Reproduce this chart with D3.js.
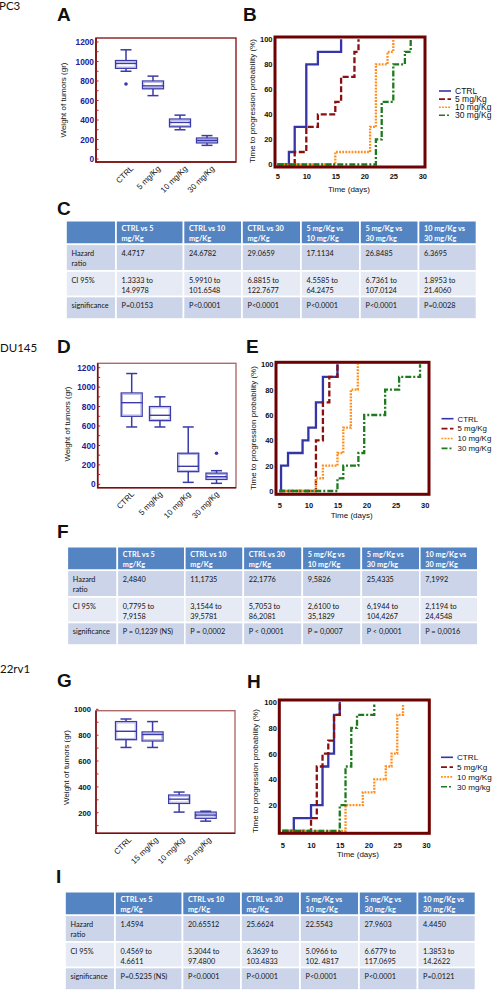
<!DOCTYPE html>
<html><head><meta charset="utf-8">
<script src="https://cdn.jsdelivr.net/npm/d3@7/dist/d3.min.js"></script>
<style>body{margin:0;background:#fff;}svg{display:block;}</style>
</head><body>
<svg id="c" width="494" height="991"></svg>
<script>
// ---------------- DATA ----------------
const boxCategoriesA = ["CTRL", "5 mg/Kg", "10 mg/Kg", "30 mg/Kg"];
const boxStatsA = [[900, 930, 980, 1010, 1120], [650, 720, 750, 800, 850], [300, 330, 375, 410, 450], [140, 165, 190, 215, 240]];
const boxOutliersA = [[770], [], [], []];
const boxTicksA = [0, 200, 400, 600, 800, 1000, 1200];

const boxCategoriesD = ["CTRL", "5 mg/Kg", "10 mg/Kg", "30 mg/Kg"];
const boxStatsD = [[590, 700, 840, 940, 1140], [590, 655, 710, 800, 900], [20, 130, 185, 320, 590], [10, 50, 78, 115, 140]];
const boxOutliersD = [[], [], [], [320]];
const boxTicksD = [0, 200, 400, 600, 800, 1000, 1200];

const boxCategoriesG = ["CTRL", "15 mg/Kg", "10 mg/Kg", "30 mg/Kg"];
const boxStatsG = [[705, 765, 830, 905, 925], [705, 755, 805, 825, 905], [205, 272, 305, 337, 360], [135, 157, 182, 205, 212]];
const boxOutliersG = [[], [], [], []];
const boxTicksG = [200, 400, 600, 800, 1000];

const kmLegendB = ["CTRL", "5 mg/Kg", "10 mg/Kg", "30 mg/Kg"];
const kmB_ctrl = [[5, 0], [7, 10], [8, 30], [10, 80], [12, 90], [16, 100]];
const kmB_5 = [[5, 0], [8, 10], [10, 30], [12, 40], [15, 50], [16, 70], [18.3, 90], [19, 100]];
const kmB_10 = [[5, 0], [15, 10], [21, 30], [22, 80], [24, 90], [25, 100]];
const kmB_30 = [[5, 0], [22, 20], [23, 50], [25, 80], [27, 90], [28, 100]];

const kmLegendE = ["CTRL", "5 mg/Kg", "10 mg/Kg", "30 mg/Kg"];
const kmE_ctrl = [[5, 0], [5.3, 20], [6.5, 30], [9, 40], [10, 50], [11.3, 70], [12.5, 90], [15, 100]];
const kmE_5 = [[5, 0], [11.3, 40], [12.5, 70], [13.6, 90], [15, 100]];
const kmE_10 = [[5, 0], [11.3, 10], [12.5, 20], [15, 30], [16, 50], [17.3, 80], [18.5, 100]];
const kmE_30 = [[5, 0], [15, 10], [16, 20], [18.6, 30], [19.6, 60], [23.2, 80], [25.6, 90], [29.2, 100]];

const kmLegendH = ["CTRL", "5 mg/Kg", "10 mg/Kg", "30 mg/kg"];
const kmH_ctrl = [[5, 0], [7, 10], [10, 20], [12, 50], [13, 60], [14, 90], [15, 100]];
const kmH_5 = [[5, 0], [10, 10], [11, 50], [12, 60], [13, 70], [14, 90], [15, 100]];
const kmH_10 = [[5, 0], [16, 20], [19, 30], [21, 40], [23, 50], [24, 60], [25, 90], [26, 98]];
const kmH_30 = [[5, 0], [15, 20], [16, 50], [17, 80], [18, 90], [21, 98]];

const kmXTicks = [5, 10, 15, 20, 25, 30];
const kmYTicks = [0, 20, 40, 60, 80, 100];
const kmYTicksH = [20, 40, 60, 80, 100];

const tableHeaders = ["", "CTRL  vs 5\nmg/Kg", "CTRL vs 10\nmg/Kg", "CTRL vs  30\nmg/Kg", "5 mg/Kg vs\n10 mg/Kg", "5 mg/Kg vs\n30 mg/kg", "10 mg/Kg vs\n30 mg/Kg"];
const tableRowLabels = ["Hazard\nratio", "CI 95%", "significance"];

const tableC_hazard = ["4.4717", "24.6782", "29.0659", "17.1134", "26.8485", "6.3695"];
const tableC_ci = ["1.3333 to\n14.9978", "5.9910 to\n101.6548", "6.8815 to\n122.7677", "4.5585 to\n64.2475", "6.7361 to\n107.0124", "1.8953 to\n21.4060"];
const tableC_sig = ["P=0.0153", "P<0.0001", "P<0.0001", "P<0.0001", "P<0.0001", "P=0.0028"];

const tableF_hazard = ["2,4840", "11,1735", "22,1776", "9,5826", "25,4335", "7,1992"];
const tableF_ci = ["0,7795 to\n7,9158", "3,1544 to\n39,5781", "5,7053 to\n86,2081", "2,6100 to\n35,1829", "6,1944 to\n104,4267", "2,1194 to\n24,4548"];
const tableF_sig = ["P = 0,1239 (NS)", "P = 0,0002", "P < 0,0001", "P = 0,0007", "P < 0,0001", "P = 0,0016"];

const tableI_hazard = ["1.4594", "20.65512", "25.6624", "22.5543", "27.9603", "4.4450"];
const tableI_ci = ["0.4569 to\n4.6611", "5.3044 to\n97.4800", "6.3639 to\n103.4833", "5.0966 to\n102. 4817", "6.6779 to\n117.0695", "1.3853 to\n14.2622"];
const tableI_sig = ["P=0.5235 (NS)", "P<0.0001", "P<0.0001", "P<0.0001", "P<0.0001", "P=0.0121"];

// ---------------- STYLE ----------------
const SANS = "'Liberation Sans', Arial, sans-serif";
const NARROW = "'Liberation Sans Narrow', 'Liberation Sans', sans-serif";
const CAL = "Lato, 'Open Sans', sans-serif";
const seriesStyle = [
  {color: "#3535a8", dash: null},
  {color: "#8a0f0f", dash: "6,2.5"},
  {color: "#ff8c1a", dash: "1.8,1.3"},
  {color: "#1e7a1e", dash: "6,2,2,2"}
];
const fmtInt = d3.format("d");

const svg = d3.select("#c");

function label(txt, x, y, size, weight, family) {
  return svg.append("text").attr("x", x).attr("y", y).attr("font-size", size)
    .attr("font-weight", weight).attr("font-family", family).attr("fill", "#111").text(txt);
}

// Section and panel labels
label("PC3", -1, 9.5, 11.5, 400, CAL);
label("DU145", 0, 351.7, 11.5, 400, CAL);
label("22rv1", 0, 673.3, 11.5, 400, CAL);
[["A", 57, 21], ["B", 243, 21], ["C", 57, 215], ["D", 57, 353], ["E", 246, 353], ["F", 57, 538], ["G", 57, 687], ["H", 247, 688], ["I", 56, 883]]
  .forEach(d => label(d[0], d[1], d[2], 19, 700, SANS));

// ---------------- BOX PANELS ----------------
function boxPanel(o) {
  const g = svg.append("g");
  const [x0, y0, x1, y1] = o.frame;
  const y = d3.scaleLinear().domain(o.yDomain).range(o.yRange);
  const x = d3.scalePoint().domain(o.cats).range(o.xRange);
  g.append("rect").attr("x", x0).attr("y", y0).attr("width", x1 - x0).attr("height", y1 - y0)
    .attr("fill", "none").attr("stroke", o.frameColor).attr("stroke-width", 1.4);
  g.append("path").attr("d", `M${x0},${y0}V${y1}H${x1}`).attr("fill", "none").attr("stroke", "#7a0e0e").attr("stroke-width", 1.6);
  const minor = d3.range(Math.ceil(o.yDomain[0] / 100) * 100, o.yDomain[1] + 1, 100);
  g.selectAll(".mt").data(minor).join("line").attr("x1", x0).attr("x2", x0 + 2.5)
    .attr("y1", d => y(d)).attr("y2", d => y(d)).attr("stroke", "#b02020").attr("stroke-width", 1);
  const ax = g.append("g").attr("transform", `translate(${x0},0)`)
    .call(d3.axisLeft(y).tickValues(o.ticks).tickFormat(fmtInt).tickSize(0).tickPadding(o.tickPad));
  ax.select(".domain").remove();
  ax.selectAll("text").attr("font-size", o.tickSize).attr("font-weight", 700)
    .attr("font-family", SANS).attr("fill", o.tickColor);
  g.append("text").attr("transform", `translate(${o.ylab[0]},${o.ylab[1]}) rotate(-90)`)
    .attr("text-anchor", "middle").attr("font-size", 8).attr("font-family", SANS).attr("fill", "#111")
    .text("Weight of tumors (gr)");
  g.selectAll(".cl").data(o.cats).join("text")
    .attr("transform", d => `translate(${x(d) + o.labDx},${y1 + 7}) rotate(-45)`)
    .attr("text-anchor", "end").attr("font-size", 8).attr("font-family", SANS).attr("fill", "#111").text(d => d);
  const bw = 21, cw = 11;
  const boxes = g.selectAll(".bx").data(o.stats.map((s, i) => ({c: o.cats[i], s, out: o.outliers[i]}))).join("g");
  const col = "#3a3aa8", light = "#a9a9e2";
  boxes.append("line").attr("x1", d => x(d.c)).attr("x2", d => x(d.c))
    .attr("y1", d => y(d.s[0])).attr("y2", d => y(d.s[1])).attr("stroke", col).attr("stroke-width", 1.5);
  boxes.append("line").attr("x1", d => x(d.c)).attr("x2", d => x(d.c))
    .attr("y1", d => y(d.s[3])).attr("y2", d => y(d.s[4])).attr("stroke", col).attr("stroke-width", 1.5);
  [0, 4].forEach(k => boxes.append("line").attr("x1", d => x(d.c) - cw / 2).attr("x2", d => x(d.c) + cw / 2)
    .attr("y1", d => y(d.s[k])).attr("y2", d => y(d.s[k])).attr("stroke", col).attr("stroke-width", 1.5));
  boxes.append("rect").attr("x", d => x(d.c) - bw / 2).attr("y", d => y(d.s[3]))
    .attr("width", bw).attr("height", d => y(d.s[1]) - y(d.s[3]))
    .attr("fill", "#fff").attr("stroke", col).attr("stroke-width", 1.3);
  boxes.append("rect").attr("x", d => x(d.c) - bw / 2 + 1.3).attr("y", d => y(d.s[3]) + 1.3)
    .attr("width", bw - 2.6).attr("height", d => Math.max(0, y(d.s[1]) - y(d.s[3]) - 2.6))
    .attr("fill", "none").attr("stroke", light).attr("stroke-width", 0.9);
  boxes.append("line").attr("x1", d => x(d.c) - bw / 2).attr("x2", d => x(d.c) + bw / 2)
    .attr("y1", d => y(d.s[2])).attr("y2", d => y(d.s[2])).attr("stroke", col).attr("stroke-width", 1.4);
  boxes.selectAll(".o").data(d => d.out.map(v => ({c: d.c, v}))).join("circle")
    .attr("cx", d => x(d.c)).attr("cy", d => y(d.v)).attr("r", 1.8).attr("fill", col);
}

boxPanel({frame: [96, 38, 236, 162], yDomain: [0, 1200], yRange: [159, 42], ticks: boxTicksA, tickColor: "#22229a", tickSize: 8.3, tickPad: 2,
  cats: boxCategoriesA, stats: boxStatsA, outliers: boxOutliersA, xRange: [126, 207], labDx: 8, ylab: [66, 100], frameColor: "#8b1a1a"});
boxPanel({frame: [97.7, 363.3, 236, 487.7], yDomain: [0, 1200], yRange: [484.3, 367.7], ticks: boxTicksD, tickColor: "#22229a", tickSize: 8.3, tickPad: 2,
  cats: boxCategoriesD, stats: boxStatsD, outliers: boxOutliersD, xRange: [131.7, 216.5], labDx: 3, ylab: [69.5, 424], frameColor: "#b06a6a"});
boxPanel({frame: [96, 710.7, 235, 833.3], yDomain: [41, 1000], yRange: [833.3, 709.3], ticks: boxTicksG, tickColor: "#111", tickSize: 7.6, tickPad: 5,
  cats: boxCategoriesG, stats: boxStatsG, outliers: boxOutliersG, xRange: [126, 205.7], labDx: 6, ylab: [69, 767.5], frameColor: "#b06a6a"});

// ---------------- KM PANELS ----------------
function kmPanel(o) {
  const g = svg.append("g");
  const [x0, y0, x1, y1] = o.frame;
  const x = d3.scaleLinear().domain([5, 30]).range(o.xRange);
  const y = d3.scaleLinear().domain([0, 100]).range(o.yRange);
  const line = d3.line().x(d => x(d[0])).y(d => y(d[1])).curve(d3.curveStepAfter);
  g.selectAll(".s").data(o.series).join("path")
    .attr("d", d => line(d)).attr("fill", "none")
    .attr("stroke", (d, i) => seriesStyle[i].color).attr("stroke-width", 2.3)
    .attr("stroke-dasharray", (d, i) => seriesStyle[i].dash);
  g.append("rect").attr("x", x0).attr("y", y0).attr("width", x1 - x0).attr("height", y1 - y0)
    .attr("fill", "none").attr("stroke", "#6e0202").attr("stroke-width", 3);
  const xa = g.append("g").attr("transform", `translate(0,${y1})`)
    .call(d3.axisBottom(x).tickValues(kmXTicks).tickSize(0).tickPadding(o.xPad));
  xa.select(".domain").remove();
  xa.selectAll("text").attr("font-size", 7.5).attr("font-family", NARROW).attr("font-weight", 700).attr("fill", "#111");
  const ya = g.append("g").attr("transform", `translate(${x0 - 1},0)`)
    .call(d3.axisLeft(y).tickValues(o.yTicks).tickSize(0).tickPadding(1.5));
  ya.select(".domain").remove();
  ya.selectAll("text").attr("font-size", 7.5).attr("font-family", NARROW).attr("font-weight", 700).attr("fill", "#111");
  g.append("text").attr("transform", `translate(${o.ylab[0]},${o.ylab[1]}) rotate(-90)`)
    .attr("text-anchor", "middle").attr("font-size", 8).attr("font-family", SANS).attr("fill", "#111")
    .text("Time to progression probability (%)");
  g.append("text").attr("x", o.xlab[0]).attr("y", o.xlab[1]).attr("text-anchor", "middle")
    .attr("font-size", 8).attr("font-family", SANS).attr("fill", "#111").text("Time (days)");
  const lg = g.selectAll(".lg").data(o.legend).join("g")
    .attr("transform", (d, i) => `translate(${o.leg[0]},${o.leg[1] + i * o.leg[2]})`);
  lg.append("line").attr("x1", 0).attr("x2", 12).attr("y1", 0).attr("y2", 0)
    .attr("stroke", (d, i) => seriesStyle[i].color).attr("stroke-width", 1.6)
    .attr("stroke-dasharray", (d, i) => seriesStyle[i].dash);
  lg.append("text").attr("x", 16).attr("y", 2.8).attr("font-size", o.legSize).attr("font-family", SANS)
    .attr("fill", "#111").text(d => d);
}

kmPanel({frame: [275, 37, 425, 167], xRange: [277.3, 422.3], yRange: [164.5, 39.3], yTicks: kmYTicks, xPad: 7,
  series: [kmB_ctrl, kmB_5, kmB_10, kmB_30], legend: kmLegendB, leg: [439, 91, 8.1], legSize: 8.5, ylab: [254.5, 101], xlab: [349, 192]});
kmPanel({frame: [276, 362.3, 429, 494.3], xRange: [279.3, 424.7], yRange: [491, 364.3], yTicks: kmYTicks, xPad: 8,
  series: [kmE_ctrl, kmE_5, kmE_10, kmE_30], legend: kmLegendE, leg: [441.5, 418.7, 9.9], legSize: 7.9, ylab: [256, 428], xlab: [351.7, 518]});
kmPanel({frame: [279.3, 700, 429.3, 833.3], xRange: [282.3, 426], yRange: [831, 702], yTicks: kmYTicksH, xPad: 9,
  series: [kmH_ctrl, kmH_5, kmH_10, kmH_30], legend: kmLegendH, leg: [441, 757.3, 9.8], legSize: 8.1, ylab: [258, 771], xlab: [358, 857]});

// ---------------- TABLES ----------------
const colW = [50, 67.5, 58.5, 59, 59, 58.5, 58];
const rowH = [23.6, 26.7, 25.5, 22.5];
const rowFill = ["#5584c2", "#cbd4e8", "#e5eaf4", "#cbd4e8"];

function table(o) {
  const g = svg.append("g");
  const xs = [o.x0]; colW.forEach(w => xs.push(xs[xs.length - 1] + w));
  const ys = [o.y0]; rowH.forEach(h => ys.push(ys[ys.length - 1] + h));
  const rows = [tableHeaders, [tableRowLabels[0]].concat(o.hazard), [tableRowLabels[1]].concat(o.ci), [tableRowLabels[2]].concat(o.sig)];
  const cells = [];
  rows.forEach((r, ri) => r.forEach((t, ci) => cells.push({ri, ci, t})));
  g.selectAll(".cell").data(cells).join("rect")
    .attr("x", d => xs[d.ci]).attr("y", d => ys[d.ri]).attr("width", d => colW[d.ci]).attr("height", d => rowH[d.ri])
    .attr("fill", d => rowFill[d.ri]).attr("stroke", "#fff").attr("stroke-width", 1.6);
  const tx = g.selectAll(".ct").data(cells.filter(d => d.t)).join("text")
    .attr("x", d => xs[d.ci] + 5.5).attr("y", d => ys[d.ri] + (d.ri === 0 ? 10 : 11.5))
    .attr("font-size", 7.3).attr("font-family", CAL)
    .attr("font-weight", d => d.ri === 0 ? 700 : 400)
    .attr("fill", d => d.ri === 0 ? "#fff" : "#141414");
  tx.selectAll("tspan").data(d => d.t.split("\n").map(s => ({s, x: xs[d.ci] + 5.5}))).join("tspan")
    .attr("x", d => d.x).attr("dy", (d, i) => i === 0 ? 0 : 10).text(d => d.s);
}

table({x0: 66, y0: 220.7, hazard: tableC_hazard, ci: tableC_ci, sig: tableC_sig});
table({x0: 67.3, y0: 546.7, hazard: tableF_hazard, ci: tableF_ci, sig: tableF_sig});
table({x0: 65, y0: 891.7, hazard: tableI_hazard, ci: tableI_ci, sig: tableI_sig});
</script>
</body></html>
